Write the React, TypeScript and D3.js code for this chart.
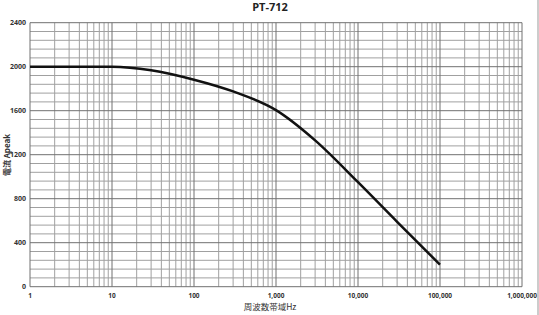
import React from "react";
import * as d3 from "d3";

const title = "PT-712";
const xLabel = "周波数帯域Hz";
const yLabel = "電流 Apeak";
const freqs = [1, 10, 30, 100, 300, 1000, 3000, 10000, 30000, 100000];
const currents = [2000, 2000, 1968, 1882, 1775, 1605, 1330, 950, 590, 200];
const xTicks = [1, 10, 100, 1000, 10000, 100000, 1000000];
const yTicks = [0, 400, 800, 1200, 1600, 2000, 2400];

const W = 539, H = 315;
const M = { left: 30, right: 17, top: 22.7, bottom: 28.3 };

export default function App() {
  const x = d3.scaleLog().domain([1, 1000000]).range([M.left, W - M.right]);
  const y = d3.scaleLinear().domain([0, 2400]).range([H - M.bottom, M.top]);
  const minorX: number[] = [];
  for (let e = 0; e < 6; e++) for (let k = 2; k <= 9; k++) minorX.push(k * Math.pow(10, e));
  const minorY = d3.range(0, 2401, 80).filter((v) => v % 400 !== 0);
  const line = d3
    .line<number>()
    .x((_, i) => x(freqs[i]))
    .y((d) => y(d))
    .curve(d3.curveMonotoneX);
  const fmt = d3.format(",");
  const [x0, x1] = x.range();
  const [y0, y1] = y.range();
  return (
    <svg width={W} height={H} style={{ position: "absolute", left: 0, top: 0, background: "#fff" }}
      fontFamily="'Open Sans', 'Noto Sans', sans-serif">
      <text x={270} y={11} textAnchor="middle" fontSize={11} fontWeight="bold" fill="#222">{title}</text>
      {minorY.map((v) => (
        <line key={"my" + v} x1={x0} x2={x1} y1={y(v)} y2={y(v)} stroke="#a0a0a0" strokeWidth={1} />
      ))}
      {minorX.map((v) => (
        <line key={"mx" + v} x1={x(v)} x2={x(v)} y1={y0} y2={y1} stroke="#a0a0a0" strokeWidth={1} />
      ))}
      {yTicks.map((v) => (
        <line key={"gy" + v} x1={x0} x2={x1} y1={y(v)} y2={y(v)} stroke="#707070" strokeWidth={1} />
      ))}
      {xTicks.map((v) => (
        <line key={"gx" + v} x1={x(v)} x2={x(v)} y1={y0} y2={y1} stroke="#707070" strokeWidth={1} />
      ))}
      <path d={line(currents) || ""} fill="none" stroke="#111" strokeWidth={2.5} />
      {yTicks.map((v) => (
        <text key={"ty" + v} x={x0 - 4} y={y(v) + 2.5} textAnchor="end" fontSize={7} fontWeight="bold" fill="#333">{v}</text>
      ))}
      {xTicks.map((v) => (
        <text key={"tx" + v} x={x(v)} y={y0 + 11} textAnchor="middle" fontSize={6.5} fontWeight="bold" fill="#333">{fmt(v)}</text>
      ))}
      <text x={270} y={310} textAnchor="middle" fontSize={8.5} fill="#333"
        fontFamily="'Noto Sans CJK JP', sans-serif">{xLabel}</text>
      <text transform={`translate(10,155) rotate(-90)`} textAnchor="middle" fontSize={8} fontWeight="bold" fill="#333"
        fontFamily="'Noto Sans CJK JP', sans-serif">{yLabel}</text>
      <line x1={538} x2={538} y1={0} y2={H} stroke="#999" strokeWidth={1} />
    </svg>
  );
}
